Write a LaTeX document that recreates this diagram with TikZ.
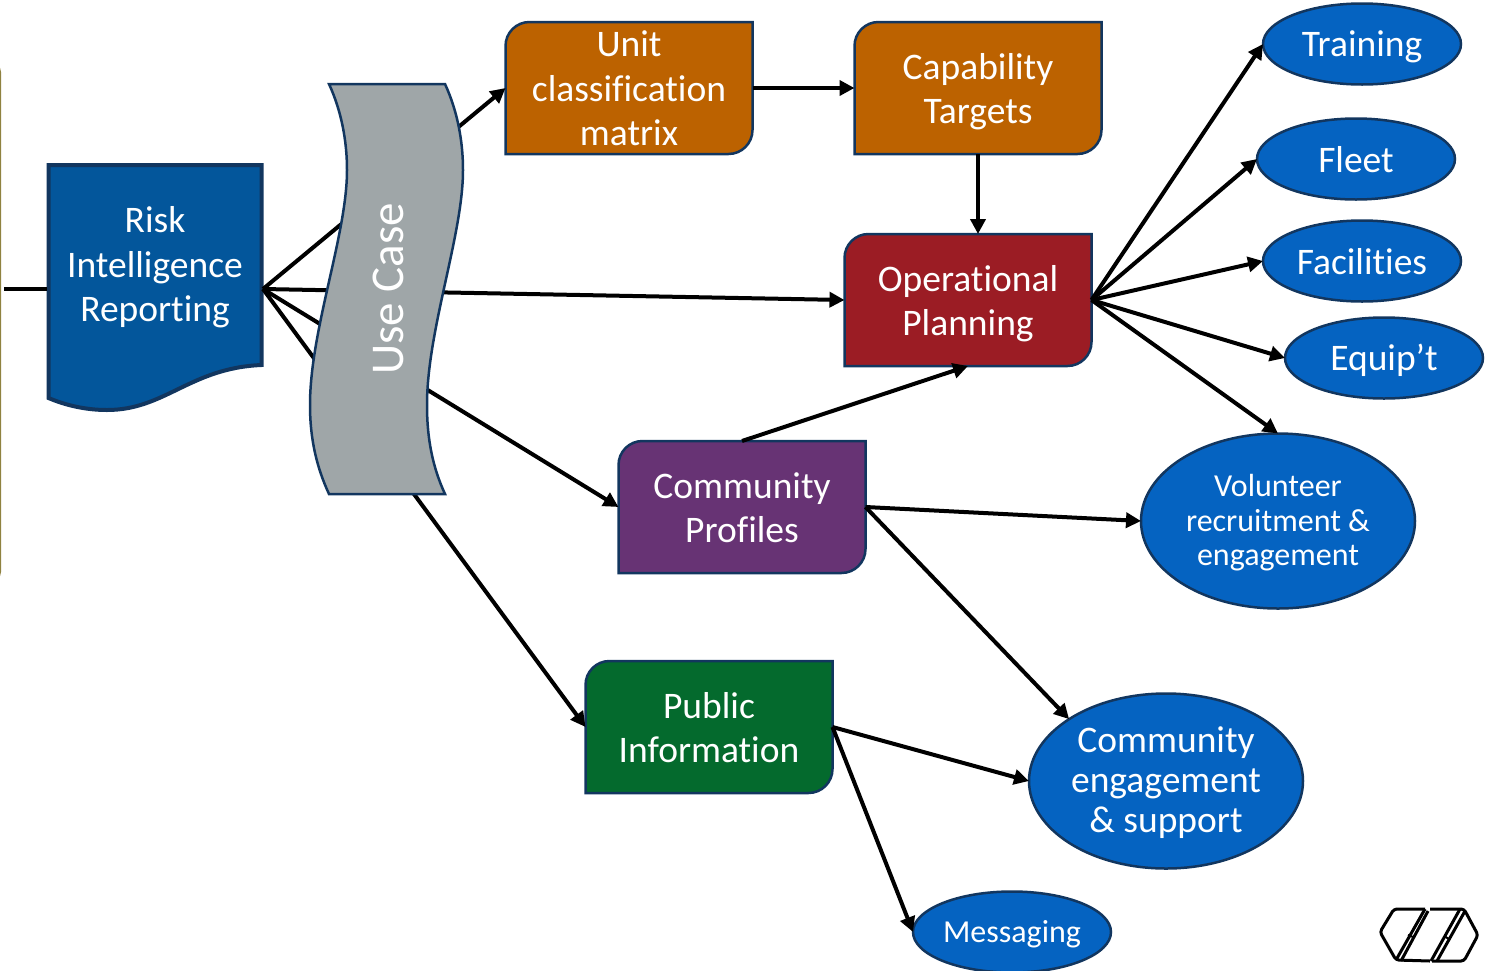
\documentclass[tikz,border=0pt]{standalone}
\usepackage{xcolor}
\usepackage{fontspec}
\setmainfont[Ligatures=NoCommon]{Carlito}
\usetikzlibrary{positioning,shapes.geometric,arrows.meta,backgrounds}

\definecolor{edgenavy}{HTML}{12365F}
\definecolor{riskblue}{HTML}{03569B}
\definecolor{wavegrey}{HTML}{9FA6A8}
\definecolor{boxorange}{HTML}{BC6200}
\definecolor{boxred}{HTML}{9B1C24}
\definecolor{boxpurple}{HTML}{673374}
\definecolor{boxgreen}{HTML}{046A2D}
\definecolor{ovalblue}{HTML}{0563C1}
\definecolor{sidegold}{HTML}{8F8240}

\tikzset{
    evenlines/.style={execute at begin node={\rule{0pt}{#1}}, execute at end node={\rule[-6pt]{0pt}{6pt}}},
    boxtext/.style={inner sep=0pt, align=center, text=white, yshift=-3.5pt, font=\fontsize{37.5}{44.5}\selectfont},
    lowtext/.style={boxtext, yshift=3pt},
    ovaltext/.style={inner sep=0pt, align=center, text=white, yshift=-2pt, font=\fontsize{37.5}{40}\selectfont},
    flowbox/.style={minimum width=247pt, minimum height=132pt, inner sep=0pt, outer sep=0pt},
    ovalbase/.style={ellipse, draw=edgenavy, line width=2.5pt, fill=ovalblue, inner sep=0pt, outer sep=0pt,
        minimum width=198pt, minimum height=81pt, text=white, font=\fontsize{37.5}{40}\selectfont},
    bigoval/.style={ovalbase, evenlines=32pt},
    smalloval/.style={ovalbase, evenlines=26pt, font=\fontsize{32}{35}\selectfont},
    wideoval/.style={ovalbase, minimum width=274pt, minimum height=175pt},
    flowarrow/.style={line width=4pt, -{Triangle[length=15pt,width=15pt]}},
    flowline/.style={line width=4pt},
    logoline/.style={line width=3pt, rounded corners=3pt, black},
}

\begin{document}
\begin{tikzpicture}[x=1pt, y=-1pt]
    \useasboundingbox (0,0) rectangle (1486,970);

    \draw[sidegold, line width=2pt, rounded corners=2pt] (-2,66) -- (0,70) -- (0,574) -- (-2,578);

    \node [flowbox, label={[lowtext]center:Unit\\classification\\matrix}] (unit) at (629,88) {};
    \node [flowbox, right=102pt of unit, label={[boxtext]center:Capability\\Targets}] (capability) {};
    \node [flowbox, below=80pt of capability, xshift=-10pt, label={[boxtext]center:Operational\\Planning}] (planning) {};
    \node [flowbox, below=75pt of planning, xshift=-226pt, label={[lowtext]center:Community\\Profiles}] (profiles) {};
    \node [flowbox, below=88pt of profiles, xshift=-33pt, label={[lowtext]center:Public\\Information}] (public) {};

    \begin{pgfonlayer}{background}
        \foreach \boxname/\boxcolor in {unit/boxorange, capability/boxorange, planning/boxred,
            profiles/boxpurple, public/boxgreen} {
            \draw[edgenavy, line width=2.5pt, fill=\boxcolor]
                (\boxname.west) [rounded corners=24pt] -- (\boxname.north west)
                [sharp corners] -- (\boxname.north east) -- (\boxname.east)
                [rounded corners=24pt] -- (\boxname.south east)
                [sharp corners] -- (\boxname.south west) -- cycle;
        }
    \end{pgfonlayer}

    \node [bigoval] (training) at (1362,44) {Training};
    \node [bigoval] (fleet) at (1356,159) {Fleet};
    \node [bigoval] (facilities) at (1362,261) {Facilities};
    \node [bigoval] (equipment) at (1384,358) {Equip’t};
    \node [wideoval, label={[ovaltext, font=\fontsize{32}{34.5}\selectfont]center:Volunteer\\recruitment \&\\engagement}] (volunteer) at (1278,521) {};
    \node [wideoval, label={[ovaltext]center:Community\\engagement\\\& support}] (engagement) at (1166,781) {};
    \node [smalloval] (messaging) at (1012,932) {Messaging};

    % risk reporting sheet
    \draw[edgenavy, line width=4pt, fill=riskblue] (48.5,165) -- (261.5,165) -- (261.5,365)
        .. controls (190,368) and (165,410) .. (107,410)
        .. controls (85,410) and (65,405) .. (48.5,398) -- cycle;
    \node [boxtext] (risk) at (155,264) {Risk\\Intelligence\\Reporting};
    \coordinate (riskin) at (47,289);
    \coordinate (riskout) at (263,289);
    \coordinate (feed) at (4,289);

    \draw[flowline] (feed) -- (riskin);
    \draw[flowarrow] (riskout) -- (unit.west);
    \draw[flowarrow] (riskout) -- (planning.west);
    \draw[flowarrow] (riskout) -- (profiles.west);
    \draw[flowarrow] (riskout) -- (public.west);
    \draw[flowarrow] (unit.east) -- (capability.west);
    \draw[flowarrow] (capability.south) -- (capability.south |- planning.north);
    \draw[flowarrow] (profiles.north) -- (planning.south);
    \draw[flowarrow] (profiles.east) -- (volunteer.west);
    \draw[flowarrow] (profiles.east) -- (engagement.north west);
    \draw[flowarrow] (public.east) -- (engagement.west);
    \draw[flowarrow] (public.east) -- (messaging.west);
    \foreach \target in {training, fleet, facilities, equipment}
        \draw[flowarrow] (planning.east) -- (\target.west);
    \draw[flowarrow] (planning.east) -- (volunteer.north);

    % wavy banner sits over the arrows
    \draw[edgenavy, line width=2.5pt, fill=wavegrey] (329,84) -- (445,84)
        .. controls (457,110) and (463,140) .. (463,170)
        .. controls (463,235) and (427,330) .. (427,405)
        .. controls (427,440) and (433,468) .. (445,494)
        -- (329,494)
        .. controls (317,468) and (310,440) .. (310,405)
        .. controls (310,330) and (347,235) .. (347,170)
        .. controls (347,140) and (341,110) .. (329,84) -- cycle;
    \node [rotate=90, text=white, font=\fontsize{47}{50}\selectfont] (usecase) at (388,289) {Use Case};

    % logo
    \draw[logoline] (1425,909) -- (1394,909) -- (1380,932) -- (1396,960) -- (1430,961);
    \draw[logoline] (1425,909) -- (1396,960);
    \draw[logoline] (1428,911) -- (1401,961);
    \draw[logoline] (1430,909) -- (1464,909) -- (1478,935) -- (1464,961) -- (1432,961);
    \draw[logoline] (1460,909) -- (1431,961);
    \draw[logoline] (1465,911) -- (1437,961);
    \draw[line width=2pt, black] (1408,935) -- (1413,937);
    \draw[line width=2pt, black] (1444,936) -- (1449,939);
\end{tikzpicture}
\end{document}
